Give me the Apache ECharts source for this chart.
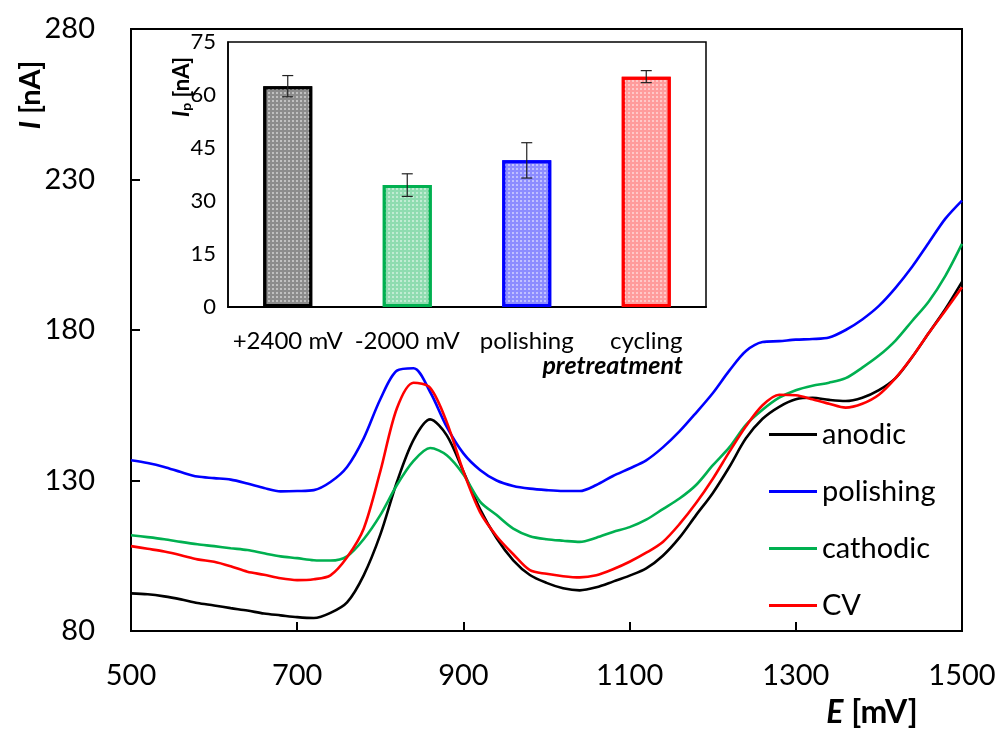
<!DOCTYPE html>
<html><head><meta charset="utf-8">
<script src="https://cdn.jsdelivr.net/npm/echarts@6/dist/echarts.min.js"></script>
<style>html,body{margin:0;padding:0;background:#fff}#c{width:1001px;height:729px}</style>
</head><body><div id="c"></div>
<script>
// ---- data ----
const potentials = [500,520,540,560,580,600,620,640,660,680,700,720,740,760,780,800,820,840,860,880,900,920,940,960,980,1000,1020,1040,1060,1080,1100,1120,1140,1160,1180,1200,1220,1240,1260,1280,1300,1320,1340,1360,1380,1400,1420,1440,1460,1480,1500];
const anodic = [92.5,92.2,91.5,90.5,89.3,88.5,87.6,86.8,85.8,85.2,84.6,84.3,86.0,89.5,98.5,112,129.5,143.5,150.3,145,133,120.5,110.8,103.5,98.6,96,94.2,93.5,94.5,96.4,98.4,100.8,105,111,118.5,125.8,134.5,144,150.5,154.5,157,157.5,156.8,156.4,157.5,160,164,171,179,187,196];
const polishing = [136.7,135.8,134.5,132.8,131.3,130.8,130.3,129,127.5,126.4,126.5,126.8,129.5,134.5,144,157,166.5,167.3,159.4,147.8,139,133.5,130,128.2,127.3,126.8,126.5,126.5,128.5,131.5,134,136.7,141,146.3,152.5,159,166.5,173,176,176.3,176.8,177,177.5,180,183.5,188,194,201,209,217,223];
const cathodic = [111.8,111.2,110.5,109.6,108.8,108.2,107.5,106.9,105.8,104.8,104.2,103.5,103.4,104.8,110.5,118.5,128.5,136.5,140.8,138.4,132,123,118.5,114,111.5,110.5,110,109.6,111,112.9,114.5,117,120.5,124,128.5,135,141,148.5,153.5,157.5,160,161.5,162.5,164,167.5,171.5,176.5,183,189.5,198,208.6];
const cv = [108.2,107.3,106.4,105.2,103.8,103,101.5,99.7,98.7,97.5,96.9,97.2,98.5,104.5,114,133,154,162.5,160.8,149.4,133,119.5,111.5,105.5,100.2,99,98.2,97.8,98.5,100.5,103,106,109.6,115.5,122.5,130.5,139.5,148,155,158.5,158.3,157,155.5,154.2,155.5,158.5,164,171,179,186.5,194.2];
const seriesNames = ['anodic','polishing','cathodic','CV'];
const pretreatLabels = ['+2400 mV','-2000 mV','polishing','cycling'];
const peakCurrents = [62.5, 34.5, 41.5, 65.2];
const peakErrors = [3.0, 3.2, 5.0, 1.7];
const mainXTicks = [500, 1500, 200];   // min, max, interval
const mainYTicks = [80, 280, 50];
const insetYTicks = [0, 75, 15];

// ---- styles ----
const FONT = 'Lato';
const lineColors = ['#000000','#0000ff','#00b050','#ff0000'];
const barBorder = ['#000000','#00b050','#0000ff','#ff0000'];
const barFill = ['#8c8c8c','#8fdcb0','#8c8cff','#ff9c9c'];

const curves = [anodic, polishing, cathodic, cv];
const chart = echarts.init(document.getElementById('c'), null, {renderer:'canvas'});

const lineSeries = curves.map((arr, k) => ({
  name: seriesNames[k], type: 'line', xAxisIndex: 0, yAxisIndex: 0,
  data: potentials.map((e, i) => [e, arr[i]]),
  showSymbol: false, smooth: 0.3,
  lineStyle: {color: lineColors[k], width: 2.6},
  itemStyle: {color: lineColors[k]}
}));

function boldTitle(a, b, size) {
  return {
    text: '{i|' + a + '}{b| ' + b + '}',
    rich: {
      i: {fontFamily: FONT, fontSize: size, fontWeight: 'bold', fontStyle: 'italic', fill: '#000'},
      b: {fontFamily: FONT, fontSize: size, fontWeight: 'bold', fill: '#000'}
    }
  };
}

const option = {
  animation: false,
  backgroundColor: '#fff',
  textStyle: {fontFamily: FONT},
  grid: [
    {left: 131, top: 29, right: 39, bottom: 98, show: true, borderColor: '#000', borderWidth: 2, backgroundColor: 'transparent'},
    {left: 228, top: 42, right: 295, bottom: 422, show: true, borderColor: '#000', borderWidth: 1.5, backgroundColor: '#fff', z: 5}
  ],
  xAxis: [
    {type: 'value', gridIndex: 0, min: mainXTicks[0], max: mainXTicks[1], interval: mainXTicks[2],
     axisLine: {lineStyle: {color: '#000', width: 2}}, splitLine: {show: false},
     axisTick: {inside: true, length: 9, lineStyle: {color: '#000', width: 2}},
     axisLabel: {fontFamily: FONT, fontSize: 29, color: '#000', margin: 30, formatter: v => String(v)}},
    {type: 'category', gridIndex: 1, data: pretreatLabels,
     axisLine: {lineStyle: {color: '#000', width: 2}},
     axisTick: {inside: true, length: 8, lineStyle: {color: '#000', width: 2}},
     axisLabel: {fontFamily: FONT, fontSize: 24, color: '#000', margin: 22, interval: 0}, z: 6}
  ],
  yAxis: [
    {type: 'value', gridIndex: 0, min: mainYTicks[0], max: mainYTicks[1], interval: mainYTicks[2],
     axisLine: {show: true, lineStyle: {color: '#000', width: 2}}, splitLine: {show: false},
     axisTick: {show: true, inside: true, length: 9, lineStyle: {color: '#000', width: 2}},
     axisLabel: {fontFamily: FONT, fontSize: 29, color: '#000', margin: 36}},
    {type: 'value', gridIndex: 1, min: insetYTicks[0], max: insetYTicks[1], interval: insetYTicks[2],
     axisLine: {show: true, lineStyle: {color: '#000', width: 1.5}}, splitLine: {show: false},
     axisTick: {show: false},
     axisLabel: {fontFamily: FONT, fontSize: 22, color: '#000', margin: 12}, z: 6}
  ],
  legend: {
    data: seriesNames, orient: 'vertical', left: 764, top: 414,
    icon: 'rect', itemWidth: 48, itemHeight: 3, itemGap: 26,
    textStyle: {fontFamily: FONT, fontSize: 29, color: '#000', lineHeight: 31}
  },
  series: [
    ...lineSeries,
    {type: 'bar', xAxisIndex: 1, yAxisIndex: 1, barWidth: '41%', z: 6,
     data: peakCurrents.map((v, i) => ({value: v, itemStyle: {color: barFill[i], borderColor: barBorder[i], borderWidth: 3,
       decal: {symbol: 'rect', symbolSize: 1, color: 'rgba(255,255,255,0.45)', dashArrayX: [2, 2], dashArrayY: [2, 2], rotation: 0}}}))},
    {type: 'custom', xAxisIndex: 1, yAxisIndex: 1, z: 7,
     data: peakCurrents.map((v, i) => [i, v, peakErrors[i]]),
     renderItem: function (params, api) {
       const i = api.value(0), v = api.value(1), e = api.value(2);
       const t = api.coord([i, v + e]), b = api.coord([i, v - e]);
       const h = 5.5, st = {stroke: '#222', lineWidth: 1.2};
       return {type: 'group', children: [
         {type: 'line', shape: {x1: t[0], y1: t[1], x2: b[0], y2: b[1]}, style: st},
         {type: 'line', shape: {x1: t[0]-h, y1: t[1], x2: t[0]+h, y2: t[1]}, style: st},
         {type: 'line', shape: {x1: b[0]-h, y1: b[1], x2: b[0]+h, y2: b[1]}, style: st}
       ]};
     }}
  ],
  graphic: [
    {type: 'text', x: 31, y: 95, rotation: Math.PI / 2,
     style: Object.assign(boldTitle('I', '[nA]', 29), {align: 'center', verticalAlign: 'middle'})},
    {type: 'text', x: 872, y: 713,
     style: Object.assign(boldTitle('E', '[mV]', 32), {align: 'center', verticalAlign: 'middle'})},
    {type: 'text', x: 683, y: 366, z: 10,
     style: {text: 'pretreatment', align: 'right', verticalAlign: 'middle', fontFamily: FONT, fontSize: 25, fontWeight: 'bold', fontStyle: 'italic', fill: '#000'}},
    {type: 'text', x: 182, y: 87, rotation: Math.PI / 2, z: 10,
     style: {text: '{i|I}{s|p}{b| [nA]}', align: 'center', verticalAlign: 'middle', rich: {i: {fontFamily: FONT, fontSize: 22, fontWeight: 'bold', fontStyle: 'italic', fill: '#000'}, s: {fontFamily: FONT, fontSize: 14, fontWeight: 'bold', fill: '#000', verticalAlign: 'bottom', padding: [9,0,0,0]}, b: {fontFamily: FONT, fontSize: 22, fontWeight: 'bold', fill: '#000'}}}}
  ]
};
chart.setOption(option);
</script>
</body></html>
